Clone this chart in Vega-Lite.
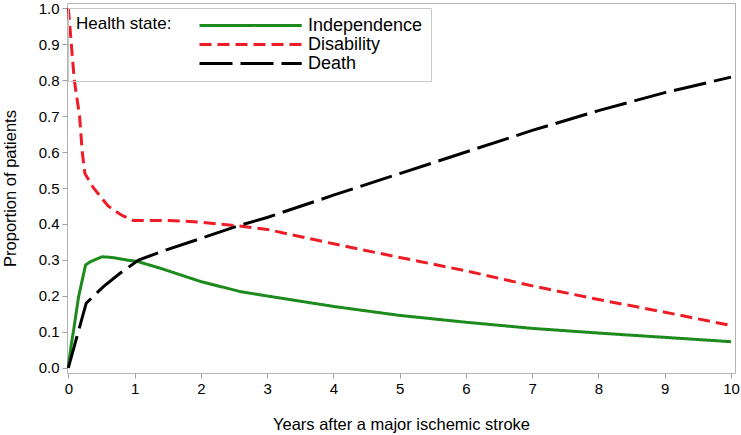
{
  "$schema": "https://vega.github.io/schema/vega-lite/v6.json",
  "autosize": {"type": "none"},
  "padding": {"left": 67, "top": 3, "right": 6, "bottom": 62},
  "width": 668,
  "height": 370,
  "background": "white",
  "config": {
    "font": "Liberation Sans",
    "view": {"stroke": "#b4b4b4", "strokeWidth": 1},
    "axis": {
      "grid": false,
      "domain": false,
      "tickColor": "#a0a0a0",
      "tickSize": 5,
      "labelColor": "#000",
      "labelFontSize": 15,
      "titleColor": "#000",
      "titleFontSize": 16.5,
      "titleFontWeight": "normal"
    }
  },
  "data": {
    "values": [
      {"t": 0, "v": 0, "state": "Independence"},
      {"t": 0.04, "v": 0.06, "state": "Independence"},
      {"t": 0.08, "v": 0.105, "state": "Independence"},
      {"t": 0.155, "v": 0.198, "state": "Independence"},
      {"t": 0.26, "v": 0.286, "state": "Independence"},
      {"t": 0.33, "v": 0.295, "state": "Independence"},
      {"t": 0.51, "v": 0.309, "state": "Independence"},
      {"t": 0.66, "v": 0.307, "state": "Independence"},
      {"t": 0.88, "v": 0.3, "state": "Independence"},
      {"t": 1.04, "v": 0.296, "state": "Independence"},
      {"t": 1.39, "v": 0.277, "state": "Independence"},
      {"t": 2, "v": 0.24, "state": "Independence"},
      {"t": 2.6, "v": 0.212, "state": "Independence"},
      {"t": 3, "v": 0.2, "state": "Independence"},
      {"t": 4, "v": 0.171, "state": "Independence"},
      {"t": 5, "v": 0.146, "state": "Independence"},
      {"t": 6, "v": 0.127, "state": "Independence"},
      {"t": 7, "v": 0.11, "state": "Independence"},
      {"t": 8, "v": 0.097, "state": "Independence"},
      {"t": 9, "v": 0.085, "state": "Independence"},
      {"t": 10, "v": 0.073, "state": "Independence"},
      {"t": 0, "v": 1.0, "state": "Disability"},
      {"t": 0.09, "v": 0.8, "state": "Disability"},
      {"t": 0.17, "v": 0.7, "state": "Disability"},
      {"t": 0.21, "v": 0.6, "state": "Disability"},
      {"t": 0.25, "v": 0.54, "state": "Disability"},
      {"t": 0.38, "v": 0.5, "state": "Disability"},
      {"t": 0.6, "v": 0.45, "state": "Disability"},
      {"t": 0.8, "v": 0.425, "state": "Disability"},
      {"t": 0.98, "v": 0.41, "state": "Disability"},
      {"t": 1.5, "v": 0.41, "state": "Disability"},
      {"t": 2, "v": 0.405, "state": "Disability"},
      {"t": 2.5, "v": 0.396, "state": "Disability"},
      {"t": 3, "v": 0.385, "state": "Disability"},
      {"t": 4, "v": 0.345, "state": "Disability"},
      {"t": 5, "v": 0.307, "state": "Disability"},
      {"t": 6, "v": 0.27, "state": "Disability"},
      {"t": 7, "v": 0.228, "state": "Disability"},
      {"t": 8, "v": 0.19, "state": "Disability"},
      {"t": 9, "v": 0.155, "state": "Disability"},
      {"t": 10, "v": 0.118, "state": "Disability"},
      {"t": 0, "v": 0, "state": "Death"},
      {"t": 0.13, "v": 0.087, "state": "Death"},
      {"t": 0.27, "v": 0.18, "state": "Death"},
      {"t": 0.53, "v": 0.226, "state": "Death"},
      {"t": 0.78, "v": 0.263, "state": "Death"},
      {"t": 1.06, "v": 0.3, "state": "Death"},
      {"t": 1.4, "v": 0.323, "state": "Death"},
      {"t": 2, "v": 0.36, "state": "Death"},
      {"t": 2.6, "v": 0.397, "state": "Death"},
      {"t": 3, "v": 0.418, "state": "Death"},
      {"t": 4, "v": 0.48, "state": "Death"},
      {"t": 5, "v": 0.54, "state": "Death"},
      {"t": 6, "v": 0.6, "state": "Death"},
      {"t": 7, "v": 0.66, "state": "Death"},
      {"t": 8, "v": 0.715, "state": "Death"},
      {"t": 9, "v": 0.765, "state": "Death"},
      {"t": 10, "v": 0.808, "state": "Death"}
    ]
  },
  "mark": {"type": "line", "strokeWidth": 3, "strokeCap": "butt"},
  "encoding": {
    "x": {
      "field": "t",
      "type": "quantitative",
      "scale": {"domain": [-0.02, 10.06], "nice": false, "zero": false},
      "axis": {"values": [0, 1, 2, 3, 4, 5, 6, 7, 8, 9, 10], "title": "Years after a major ischemic stroke", "labelPadding": 3, "titlePadding": 20, "labelFlush": false}
    },
    "y": {
      "field": "v",
      "type": "quantitative",
      "scale": {"domain": [-0.014, 1.014], "nice": false, "zero": false},
      "axis": {"values": [0, 0.1, 0.2, 0.3, 0.4, 0.5, 0.6, 0.7, 0.8, 0.9, 1.0], "format": ".1f", "title": "Proportion of patients", "labelPadding": 3, "titlePadding": 20, "labelFlush": false}
    },
    "color": {
      "field": "state",
      "type": "nominal",
      "scale": {"domain": ["Independence", "Disability", "Death"], "range": ["#1c8a1c", "#ee1c24", "#000000"]},
      "legend": {
        "title": "Health state:",
        "orient": "none",
        "legendX": 1,
        "legendY": 5,
        "direction": "vertical",
        "titleOrient": "left",
        "titleAnchor": "start",
        "titleBaseline": "top",
        "titleFontSize": 17,
        "titleFontWeight": "normal",
        "titleColor": "#000",
        "titlePadding": 18,
        "labelFontSize": 18,
        "labelColor": "#000",
        "labelOffset": 99,
        "symbolType": "M 0 0 L 13.2 0",
        "symbolSize": 240,
        "symbolStrokeWidth": 3,
        "rowPadding": 0,
        "strokeColor": "#c8c8c8",
        "padding": 8
      }
    },
    "strokeDash": {
      "field": "state",
      "type": "nominal",
      "scale": {"domain": ["Independence", "Disability", "Death"], "range": [[1, 0], [12, 6], [33, 8]]},
      "legend": null
    },
    "order": {"field": "t", "type": "quantitative"}
  }
}
